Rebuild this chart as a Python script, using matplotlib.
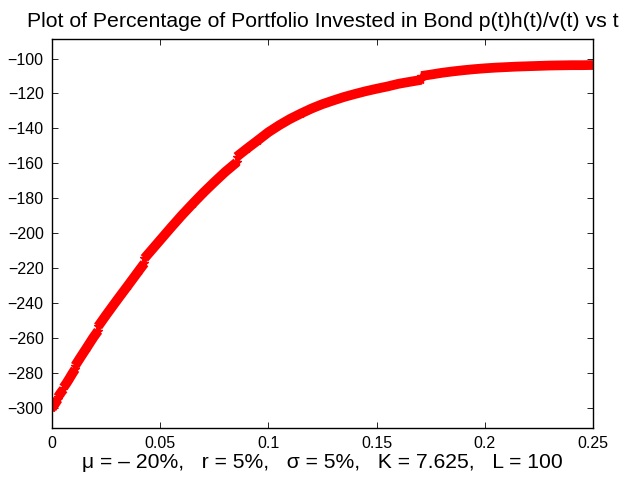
import numpy as np
import matplotlib.pyplot as plt

plt.rcParams['font.family'] = ['Liberation Sans', 'DejaVu Sans']

# Отрезки решения (t, p(t)h(t)/v(t)), на стыках небольшие скачки
t_seg1 = [0.0, 0.0013, 0.0027]
y_seg1 = [-300.5, -298.0, -295.3]
t_seg2 = [0.0027, 0.004, 0.0053]
y_seg2 = [-294.0, -291.6, -289.5]
t_seg3 = [0.0053, 0.0067, 0.008, 0.0093, 0.0107]
y_seg3 = [-288.5, -286.0, -283.4, -280.7, -278.0]
t_seg4 = [0.0107, 0.013, 0.016, 0.019, 0.0213]
y_seg4 = [-276.0, -271.5, -265.8, -260.0, -256.0]
t_seg5 = [0.0213, 0.025, 0.03, 0.035, 0.04, 0.0427]
y_seg5 = [-253.5, -247.0, -238.5, -230.2, -221.8, -217.3]
t_seg6 = [0.0427, 0.05, 0.055, 0.06, 0.065, 0.07, 0.075, 0.08, 0.0853]
y_seg6 = [-214.5, -204.0, -196.8, -189.8, -183.2, -176.8, -170.8, -165.0, -159.5]
t_seg7 = [0.0853, 0.09, 0.095, 0.1, 0.105, 0.11, 0.115, 0.12, 0.125, 0.13,
          0.135, 0.14, 0.145, 0.15, 0.155, 0.16, 0.165, 0.1707]
y_seg7 = [-156.3, -151.7, -147.0, -142.2, -138.2, -134.6, -131.5, -128.6, -126.1, -124.0,
          -122.0, -120.3, -118.7, -117.3, -116.0, -114.5, -113.4, -112.2]
t_seg8 = [0.1707, 0.175, 0.18, 0.185, 0.19, 0.195, 0.2, 0.205, 0.21, 0.215,
          0.22, 0.225, 0.23, 0.235, 0.24, 0.245, 0.25]
y_seg8 = [-110.0, -109.2, -108.2, -107.4, -106.7, -106.1, -105.6, -105.2, -104.9, -104.6,
          -104.4, -104.2, -104.0, -103.9, -103.8, -103.8, -103.7]

segments = [(t_seg1, y_seg1), (t_seg2, y_seg2), (t_seg3, y_seg3), (t_seg4, y_seg4),
            (t_seg5, y_seg5), (t_seg6, y_seg6), (t_seg7, y_seg7), (t_seg8, y_seg8)]

x_ticks = [0, 0.05, 0.1, 0.15, 0.2, 0.25]
x_tick_labels = ['0', '0.05', '0.1', '0.15', '0.2', '0.25']
y_ticks = list(range(-300, -99, 20))

fig = plt.figure(figsize=(6.25, 4.78), dpi=100)
ax = fig.add_axes([0.0832, 0.1046, 0.8656, 0.8138])

# Толстая красная линия со звёздочками (как в MATLAB 'r*')
for t, y in segments:
    ax.plot(t, y, color='red', linewidth=7, solid_capstyle='butt')
    ax.plot(t, y, 'r*', markersize=6)

ax.set_xlim(0, 0.25)
ax.set_ylim(-311.7, -88.8)
ax.set_xticks(x_ticks)
ax.set_xticklabels(x_tick_labels)
ax.set_yticks(y_ticks)
ax.tick_params(direction='in', top=True, right=True, length=4, width=0.6,
               labelsize=11.5, pad=6)
for s in ax.spines.values():
    s.set_linewidth(1.0)

ax.set_title('Plot of Percentage of Portfolio Invested in Bond p(t)h(t)/v(t) vs t',
             fontsize=15.3, pad=9)
ax.set_xlabel('\u03bc = \u2013 20%,   r = 5%,   \u03c3 = 5%,   K = 7.625,   L = 100',
              fontsize=15.2, labelpad=1)

plt.savefig('out.png', dpi=100)
